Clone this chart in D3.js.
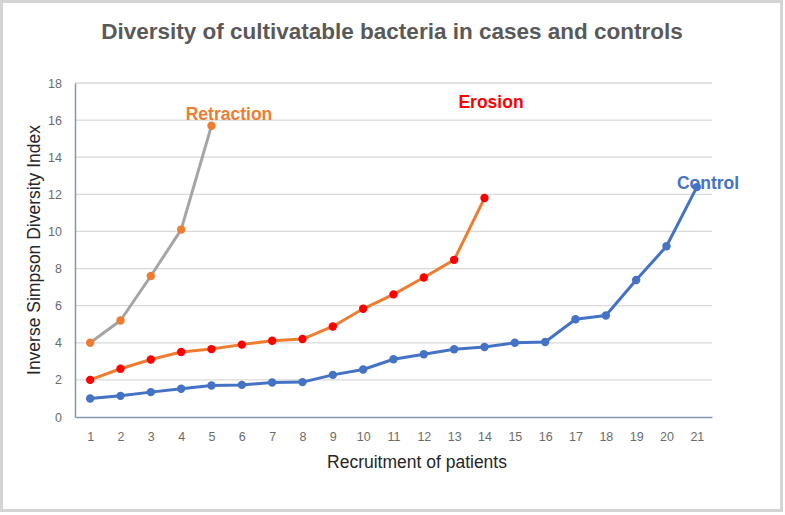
<!DOCTYPE html>
<html>
<head>
<meta charset="utf-8">
<script src="https://cdn.jsdelivr.net/npm/d3@7"></script>
<style>
  body { margin: 0; background: #fff; }
  #chart { width: 785px; height: 515px; }
  text { font-family: "Liberation Sans", Arial, sans-serif; }
</style>
</head>
<body>
<div id="chart"></div>
<script>
// patients on the x axis
const patients = d3.range(1, 22);
const yTicks = [0, 2, 4, 6, 8, 10, 12, 14, 16, 18];

// inverse simpson index per recruited patient
const retraction = [4.0, 5.2, 7.6, 10.1, 15.7];
const erosion = [2.0, 2.6, 3.1, 3.5, 3.66, 3.9, 4.11, 4.2, 4.88, 5.83, 6.61, 7.52, 8.47, 11.8];
const control = [1.0, 1.14, 1.34, 1.52, 1.7, 1.73, 1.86, 1.88, 2.27, 2.56, 3.11, 3.38, 3.65, 3.77, 4.0, 4.04, 5.27, 5.47, 7.38, 9.2, 12.39];

const seriesNames = ["Retraction", "Erosion", "Control"];

const width = 785, height = 515;
const margin = {top: 83, right: 73, bottom: 98, left: 75};

const svg = d3.select("#chart").append("svg")
    .attr("width", width)
    .attr("height", height);

// outer frame
svg.append("rect")
    .attr("x", 1.5).attr("y", 1.5)
    .attr("width", width - 5).attr("height", height - 6)
    .attr("fill", "#fff")
    .attr("stroke", "#d4d4d4")
    .attr("stroke-width", 3);

const x = d3.scalePoint()
    .domain(patients)
    .range([margin.left, width - margin.right])
    .padding(0.5);

const y = d3.scaleLinear()
    .domain([0, 18])
    .range([height - margin.bottom, margin.top]);

// gridlines
svg.append("g")
    .selectAll("line")
    .data(yTicks.filter(d => d > 0))
    .join("line")
    .attr("x1", margin.left)
    .attr("x2", width - margin.right)
    .attr("y1", d => y(d))
    .attr("y2", d => y(d))
    .attr("stroke", "#d9d9d9")
    .attr("stroke-width", 1.3);

// y axis
const yAxis = svg.append("g")
    .attr("transform", `translate(${margin.left},0)`)
    .call(d3.axisLeft(y).tickValues(yTicks).tickSize(0).tickPadding(13));
yAxis.select(".domain").attr("stroke", "#8496b0").attr("stroke-width", 1.5);
yAxis.selectAll("text")
    .attr("fill", "#6b6b6b")
    .style("font-size", "12.5px")
    .style("font-family", "'Liberation Sans', sans-serif");

// x axis
const xAxis = svg.append("g")
    .attr("transform", `translate(0,${y(0)})`)
    .call(d3.axisBottom(x).tickSize(0).tickPadding(15));
xAxis.select(".domain").attr("stroke", "#8496b0").attr("stroke-width", 1.5);
xAxis.selectAll("text")
    .attr("fill", "#6b6b6b")
    .style("font-size", "12.5px")
    .style("font-family", "'Liberation Sans', sans-serif");

// series labels (markers sit on top of them)
const labels = [
    {name: seriesNames[0], x: 229, y: 120, color: "#ed7d31"},
    {name: seriesNames[1], x: 491, y: 108, color: "#ff0000"},
    {name: seriesNames[2], x: 708, y: 189, color: "#4472c4"}
];
svg.append("g")
    .selectAll("text")
    .data(labels)
    .join("text")
    .attr("x", d => d.x)
    .attr("y", d => d.y)
    .attr("text-anchor", "middle")
    .attr("fill", d => d.color)
    .style("font-size", "17.5px")
    .style("font-weight", "bold")
    .text(d => d.name);

const line = d3.line()
    .x((d, i) => x(patients[i]))
    .y(d => y(d));

function drawSeries(values, lineColor, dotColor) {
    svg.append("path")
        .datum(values)
        .attr("d", line)
        .attr("fill", "none")
        .attr("stroke", lineColor)
        .attr("stroke-width", 3)
        .attr("stroke-linejoin", "round");

    svg.append("g")
        .selectAll("circle")
        .data(values)
        .join("circle")
        .attr("cx", (d, i) => x(patients[i]))
        .attr("cy", d => y(d))
        .attr("r", 4.2)
        .attr("fill", dotColor);
}

drawSeries(control, "#4472c4", "#4472c4");
drawSeries(erosion, "#ed7d31", "#ff0000");
drawSeries(retraction, "#a5a5a5", "#ed7d31");

// title
svg.append("text")
    .attr("x", 392)
    .attr("y", 39)
    .attr("text-anchor", "middle")
    .attr("fill", "#595959")
    .style("font-size", "22.5px")
    .style("font-weight", "bold")
    .text("Diversity of cultivatable bacteria in cases and controls");

// axis titles
svg.append("text")
    .attr("transform", `translate(40,${(y(0) + y(18)) / 2}) rotate(-90)`)
    .attr("text-anchor", "middle")
    .attr("fill", "#262626")
    .style("font-size", "17.5px")
    .text("Inverse Simpson Diversity Index");

svg.append("text")
    .attr("x", 417)
    .attr("y", 468)
    .attr("text-anchor", "middle")
    .attr("fill", "#262626")
    .style("font-size", "17.5px")
    .text("Recruitment of patients");
</script>
</body>
</html>
